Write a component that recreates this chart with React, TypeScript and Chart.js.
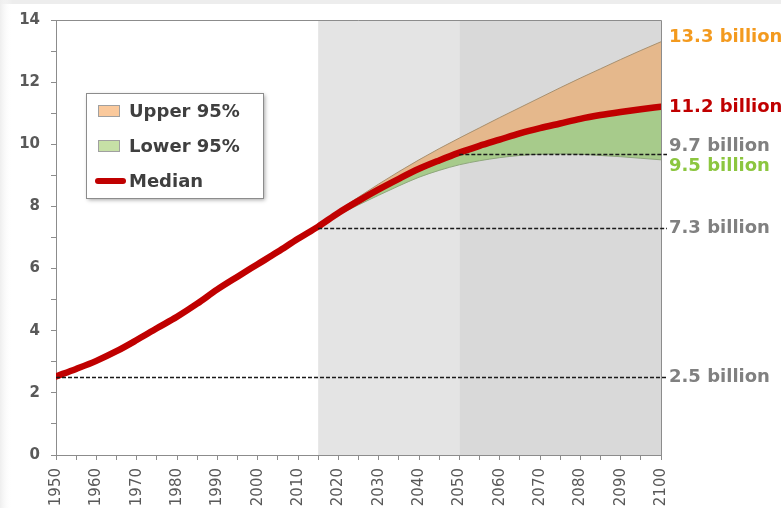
import React, { useEffect, useRef } from "react";
import { Chart, registerables } from "chart.js";

Chart.register(...registerables);

// ---- data ----
const years = [1950, 1955, 1960, 1965, 1970, 1975, 1980, 1985, 1990, 1995, 2000, 2005, 2010, 2015, 2020, 2025, 2030, 2035, 2040, 2045, 2050, 2055, 2060, 2065, 2070, 2075, 2080, 2085, 2090, 2095, 2100];
const median = [2.53, 2.77, 3.03, 3.34, 3.70, 4.08, 4.45, 4.87, 5.33, 5.74, 6.14, 6.54, 6.96, 7.35, 7.79, 8.18, 8.55, 8.89, 9.21, 9.48, 9.73, 9.95, 10.15, 10.35, 10.52, 10.67, 10.82, 10.94, 11.04, 11.13, 11.21];
const bandYears = [2015, 2020, 2025, 2030, 2035, 2040, 2045, 2050, 2055, 2060, 2065, 2070, 2075, 2080, 2085, 2090, 2095, 2100];
const upper95 = [7.35, 7.86, 8.30, 8.72, 9.12, 9.50, 9.86, 10.20, 10.53, 10.86, 11.18, 11.50, 11.82, 12.13, 12.43, 12.73, 13.02, 13.30];
const lower95 = [7.35, 7.72, 8.05, 8.36, 8.66, 8.94, 9.16, 9.34, 9.47, 9.57, 9.64, 9.68, 9.69, 9.68, 9.64, 9.60, 9.55, 9.50];

const shadeStarts = [2015, 2050];
const shadeEnds = [2050, 2100];

const refStartYears = [1950, 2015, 2050];
const refValues = [2.5, 7.3, 9.7];

const endLabels = ["13.3 billion", "11.2 billion", "9.7 billion", "9.5 billion", "7.3 billion", "2.5 billion"];
const endValues = [13.3, 11.2, 9.7, 9.5, 7.3, 2.5];

const legendLabels = ["Upper 95%", "Lower 95%", "Median"];

// ---- styles ----
const endColors = ["#f39a1e", "#c00000", "#808080", "#8cc63f", "#808080", "#808080"];
const endOffsets = [-4, 0, -7, 7, 0, 0];
const shadeColors = ["#e4e4e4", "#d9d9d9"];
const FONT = "'DejaVu Sans', 'Liberation Sans', Arial, sans-serif";

const decorPlugin = {
  id: "decor",
  beforeDraw(chart: any) {
    const { ctx, width, height } = chart;
    ctx.save();
    ctx.fillStyle = "#ffffff";
    ctx.fillRect(0, 0, width, height);
    ctx.fillStyle = "#ededed";
    ctx.fillRect(0, 0, width, 4);
    const g = ctx.createLinearGradient(0, 0, 12, 0);
    g.addColorStop(0, "#eeeeee");
    g.addColorStop(1, "rgba(255,255,255,0)");
    ctx.fillStyle = g;
    ctx.fillRect(0, 0, 12, height);
    ctx.restore();
  },
  beforeDatasetsDraw(chart: any) {
    const { ctx, chartArea, scales } = chart;
    ctx.save();
    shadeStarts.forEach((s, i) => {
      const x0 = scales.x.getPixelForValue(s);
      const x1 = scales.x.getPixelForValue(shadeEnds[i]);
      ctx.fillStyle = shadeColors[i];
      ctx.fillRect(x0, chartArea.top, x1 - x0, chartArea.bottom - chartArea.top);
    });
    ctx.restore();
  },
  afterDatasetsDraw(chart: any) {
    const { ctx, chartArea, scales } = chart;
    ctx.save();
    // frame
    ctx.strokeStyle = "#8c8c8c";
    ctx.lineWidth = 1;
    ctx.beginPath();
    ctx.moveTo(chartArea.left, chartArea.top + 0.5);
    ctx.lineTo(chartArea.right + 0.5, chartArea.top + 0.5);
    ctx.lineTo(chartArea.right + 0.5, chartArea.bottom);
    ctx.stroke();
    // dashed reference lines
    ctx.strokeStyle = "#1a1a1a";
    ctx.lineWidth = 1.3;
    ctx.setLineDash([4, 2]);
    refValues.forEach((v, i) => {
      const y = Math.round(scales.y.getPixelForValue(v)) + 0.5;
      const x0 = scales.x.getPixelForValue(refStartYears[i]);
      ctx.beginPath();
      ctx.moveTo(x0, y);
      ctx.lineTo(chartArea.right + 6, y);
      ctx.stroke();
    });
    ctx.setLineDash([]);
    // end labels
    ctx.font = `bold 18px ${FONT}`;
    ctx.textBaseline = "middle";
    ctx.textAlign = "left";
    endValues.forEach((v, i) => {
      const y = scales.y.getPixelForValue(v) + endOffsets[i];
      ctx.fillStyle = endColors[i];
      ctx.fillText(endLabels[i], chartArea.right + 8, y);
    });
    // legend box
    const bx = 86, by = 93, bw = 177, bh = 105;
    ctx.save();
    ctx.shadowColor = "rgba(0,0,0,0.35)";
    ctx.shadowBlur = 4;
    ctx.shadowOffsetX = 2;
    ctx.shadowOffsetY = 2;
    ctx.fillStyle = "#ffffff";
    ctx.fillRect(bx, by, bw, bh);
    ctx.restore();
    ctx.strokeStyle = "#8c8c8c";
    ctx.lineWidth = 1;
    ctx.strokeRect(bx + 0.5, by + 0.5, bw, bh);
    const rows = [111, 146, 181];
    ctx.fillStyle = "#fac99c";
    ctx.fillRect(98, rows[0] - 6, 22, 12);
    ctx.strokeStyle = "#a0a0a0";
    ctx.strokeRect(98.5, rows[0] - 5.5, 21, 11);
    ctx.fillStyle = "#c6e0a6";
    ctx.fillRect(98, rows[1] - 6, 22, 12);
    ctx.strokeRect(98.5, rows[1] - 5.5, 21, 11);
    ctx.strokeStyle = "#c00000";
    ctx.lineWidth = 6;
    ctx.lineCap = "round";
    ctx.beginPath();
    ctx.moveTo(98, rows[2]);
    ctx.lineTo(123, rows[2]);
    ctx.stroke();
    ctx.font = `bold 18px ${FONT}`;
    ctx.fillStyle = "#3f3f3f";
    ctx.textBaseline = "middle";
    legendLabels.forEach((t, i) => ctx.fillText(t, 129, rows[i] + 1));
    ctx.restore();
  },
};

export default function App() {
  const ref = useRef<HTMLCanvasElement>(null);
  useEffect(() => {
    document.body.style.margin = "0";
    const medianPts = years.map((x, i) => ({ x, y: median[i] }));
    const upperPts = bandYears.map((x, i) => ({ x, y: upper95[i] }));
    const lowerPts = bandYears.map((x, i) => ({ x, y: lower95[i] }));
    const chart = new Chart(ref.current!, {
      type: "line",
      data: {
        datasets: [
          {
            label: "Median",
            data: medianPts,
            borderColor: "#c00000",
            borderWidth: 6.5,
            pointRadius: 0,
            cubicInterpolationMode: "monotone",
            fill: false,
            borderCapStyle: "round",
          },
          {
            label: "Upper 95%",
            data: upperPts,
            borderColor: "#a8906f",
            borderWidth: 1,
            pointRadius: 0,
            cubicInterpolationMode: "monotone",
            backgroundColor: "#e5b88c",
            fill: 0,
          },
          {
            label: "Lower 95%",
            data: lowerPts,
            borderColor: "#8fa77c",
            borderWidth: 1,
            pointRadius: 0,
            cubicInterpolationMode: "monotone",
            backgroundColor: "#a7cb8b",
            fill: 0,
          },
        ],
      },
      options: {
        animation: false,
        responsive: false,
        layout: { padding: { top: 17, right: 120, left: 0, bottom: 0 } },
        plugins: { legend: { display: false }, tooltip: { enabled: false } },
        scales: {
          x: {
            type: "linear",
            min: 1950,
            max: 2100,
            afterFit(s: any) {
              s.height = 53;
            },
            ticks: {
              stepSize: 5,
              autoSkip: false,
              maxRotation: 90,
              minRotation: 90,
              padding: 8,
              color: "#595959",
              font: { family: FONT, size: 15 },
              callback: (v: any) => (Number(v) % 10 === 0 ? String(v) : ""),
            },
            grid: { drawOnChartArea: false, drawTicks: true, tickLength: 5, color: "#8c8c8c" },
            border: { color: "#8c8c8c" },
          },
          y: {
            min: 0,
            max: 14,
            afterFit(s: any) {
              s.width = 56;
            },
            ticks: {
              stepSize: 1,
              autoSkip: false,
              padding: 11,
              color: "#595959",
              font: { family: FONT, size: 15, weight: "bold" },
              callback: (v: any) => (Number(v) % 2 === 0 ? String(v) : ""),
            },
            grid: { drawOnChartArea: false, drawTicks: true, tickLength: 5, color: "#8c8c8c" },
            border: { color: "#8c8c8c" },
          },
        },
      },
      plugins: [decorPlugin],
    });
    return () => chart.destroy();
  }, []);
  return (
    <div style={{ position: "absolute", left: 0, top: 0, width: 781, height: 508 }}>
      <canvas ref={ref} width={781} height={508} style={{ width: 781, height: 508, display: "block" }} />
    </div>
  );
}
